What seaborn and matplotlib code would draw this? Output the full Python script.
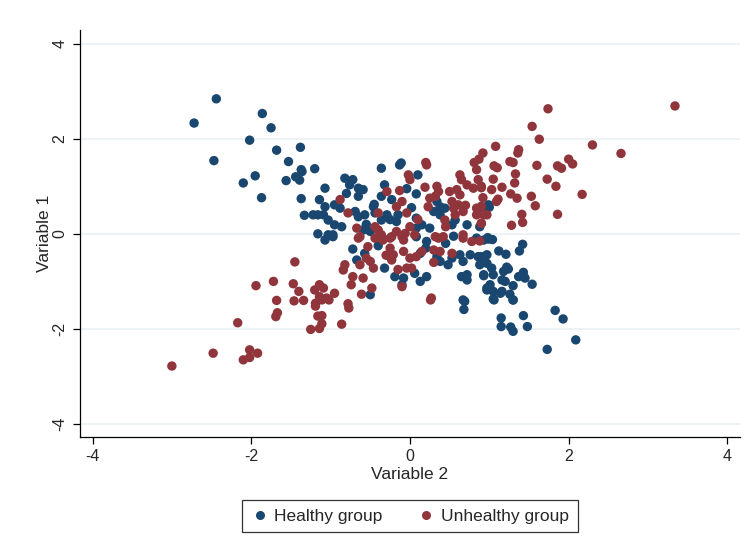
import matplotlib
matplotlib.use("Agg")
import matplotlib.pyplot as plt
import seaborn as sns
import pandas as pd
from matplotlib.lines import Line2D

# Healthy group: (Variable 2, Variable 1) pairs
healthy_x = [-2.44, -2.72, -1.86, -1.75, -2.02, -1.68, -1.38, -2.47, -1.53, -1.37, -1.20,
             -2.10, -1.95, -1.87, -1.56, -1.44, -1.39, -1.36, -1.37, -1.33, -1.22, -1.16, -1.16,
             -0.36, -0.11, -0.13, -0.82, -0.72, -0.76, -1.07, -0.65, -0.59, -0.65, -0.32, -0.04,
             0.08, -0.36, -0.23, 0.10, -1.14, -1.07, -0.95, -0.88, -0.69, -0.65, -0.57, -0.46,
             -0.44, -0.36, -0.29, -1.09, -1.03, -0.95, -0.86, -1.03, -0.97, -0.15, -0.17, 0.08,
             0.15, 0.08, 0.30, 0.38, 0.44, 0.34, 0.38, 0.57, 0.53, 0.93, 0.99, 0.72, 0.88,
             -0.59, -0.50, 1.00, 0.98,
             -0.97, -1.07, -0.72, -0.57, -0.67, -0.32, -0.19, -0.08, -0.10, 0.06, 0.21, 0.13,
             0.13, 0.21, 0.08, 0.34, 0.38, 0.48, 0.53, 0.63, 0.76, 0.86, 0.97, 0.67, 0.93, 0.84,
             0.65, 0.72, 0.72, 0.93, 0.97, 0.67, -0.50,
             0.99, 1.04, 1.42, 1.38, 1.12, 1.21, 0.90, 0.97, 1.03, 0.88, 1.22, 1.24, 1.18, 0.93,
             1.05, 1.43, 1.37, 1.45, 1.54, 1.16, 1.20, 1.30, 1.01, 0.97, 1.05, 1.16, 1.14, 1.26,
             1.30, 1.05,
             0.69, 0.68, 1.06, 1.30, 1.15, 1.15, 1.27, 1.30, 1.43, 1.48, 1.83, 1.93, 2.09, 1.73,
             -0.45, -0.25, 0.02, 0.25, 0.45, -0.80, -0.55, 0.20, 0.55, -0.40]
healthy_y = [2.84, 2.33, 2.53, 2.23, 1.97, 1.76, 1.82, 1.54, 1.52, 1.35, 1.37,
             1.07, 1.22, 0.76, 1.12, 1.20, 1.13, 1.31, 0.74, 0.39, 0.40, 0.40, 0.00,
             1.38, 1.49, 1.45, 1.17, 1.14, 1.03, 0.96, 0.96, 0.93, 0.79, 1.03, 0.95,
             0.84, 0.79, 0.72, 1.24, 0.72, 0.57, 0.61, 0.54, 0.47, 0.36, 0.40, 0.57,
             0.44, 0.29, 0.40, 0.40, 0.29, 0.19, 0.15, -0.02, -0.06, 0.40, 0.26, 0.33,
             0.19, 0.12, 0.47, 0.40, 0.54, 0.68, 0.57, 0.29, 0.19, 0.51, 0.61, 0.19, 0.15,
             0.08, 0.05, 0.56, -0.08,
             -0.02, -0.13, -0.32, -0.41, -0.55, -0.72, -0.90, -0.93, -1.07, -0.83, -0.90, -1.00,
             -0.41, -0.16, -0.06, -0.48, -0.58, -0.65, -0.51, -0.44, -0.44, -0.48, -0.44, -0.58,
             -0.13, -0.09,
             -0.90, -0.97, -0.86, -0.86, -1.14, -1.39, -1.28,
             -0.11, -0.12, -0.22, -0.36, -0.36, -0.43, -0.48, -0.62, -0.72, -0.65, -0.70, -0.74,
             -0.79, -0.88, -0.86, -0.81, -0.90, -0.93, -1.06, -0.97, -1.00, -1.09, -1.07, -1.18,
             -1.21, -1.21, -1.25, -1.27, -1.39, -1.37,
             -1.42, -1.59, -1.39, -1.39, -1.77, -1.95, -1.96, -2.05, -1.72, -1.95, -1.61, -1.79,
             -2.23, -2.43,
             0.62, 0.30, 0.55, 0.12, -0.20, 0.85, 0.20, -0.30, -0.05, -0.25]

# Unhealthy group: (Variable 2, Variable 1) pairs
unhealthy_x = [0.20, 0.81, 0.87, 0.92, 1.74, 3.34, 1.54, 1.63, 1.08, 1.37, 1.36, 2.30, 2.66,
               1.26, 1.30, 1.60, 1.06, 1.10, 1.86, 1.91, 2.00, 2.05,
               1.33, 1.05, 1.32, 0.90, 1.03, 1.16, 1.73, 1.84, 2.17, 0.92, 1.11, 1.09, 1.27,
               1.35, 1.53, 1.58, 0.90, 0.93, 0.97, 1.41, 1.86, 0.90, 1.28, 1.42,
               -1.45, -1.94, -1.72, -1.47, -1.40, -1.20, -1.68, -1.46, -1.34, -1.19,
               -1.67, -1.69, -2.17, -1.19, -1.16, -1.25, -2.48, -3.00, -2.02, -1.92, -2.02, -2.10,
               -0.77, -1.11, -1.11, -1.14, -0.86, -1.02, -1.11, 0.26, 0.88,
               -0.65, -0.44, -0.34, -0.25, -0.08, -0.53, -0.25, -0.21, -0.23, -0.08, 0.00, 0.08,
               0.15, -0.55, -0.50, -0.46, -0.82, -0.84, -0.63, -0.72, -0.59, -0.74, -0.48, -0.61,
               -0.04, 0.02, -0.10, 0.27, 0.30, 0.38, 0.53, 0.36, 0.67, 0.78, -1.14, -1.09, -1.14,
               -0.95, -1.05, -0.78,
               -0.02, 0.00, 0.21, -0.29, -0.13, 0.19, 0.34, 0.36, 0.32, 0.25, 0.23, -0.88, -0.78,
               -0.17, -0.10, -0.40, -0.04, 0.50, 0.59, 0.63, 0.72, 0.80, 0.63, 0.65, 0.84, 0.86,
               0.90, 0.53, 0.55, 0.57, 0.61, 0.67, 0.84, 0.84, 0.44, 0.90, 0.67, -0.67, -0.44,
               -0.40, -0.36, -0.17, -0.06, 0.00, -0.23, -0.10, -0.63, 0.06, 0.32, 0.42,
               0.10, 0.45, -0.30, 0.70, -0.15, 0.30]
unhealthy_y = [1.50, 1.50, 1.57, 1.70, 2.63, 2.69, 2.26, 1.99, 1.84, 1.77, 1.70, 1.87, 1.69,
               1.52, 1.50, 1.44, 1.43, 1.39, 1.43, 1.38, 1.57, 1.47,
               1.26, 1.15, 1.07, 0.97, 0.93, 0.98, 1.15, 1.00, 0.83, 0.76, 0.73, 0.68, 0.84,
               0.75, 0.79, 0.59, 0.58, 0.40, 0.40, 0.41, 0.41, 0.22, 0.18, 0.24,
               -0.59, -1.09, -1.00, -1.05, -1.21, -1.18, -1.40, -1.41, -1.40, -1.46,
               -1.66, -1.74, -1.87, -1.52, -1.73, -2.01, -2.51, -2.78, -2.44, -2.51, -2.60, -2.65,
               -1.56, -1.72, -1.89, -1.99, -1.90, -1.39, -1.39, -1.39, -0.15,
               -0.09, -0.09, -0.13, -0.09, -0.13, -0.27, -0.30, -0.44, -0.55, -0.37, -0.51, -0.48,
               -0.37, -0.51, -0.58, -0.72, -0.65, -0.76, -0.65, -0.90, -0.93, -1.07, -1.14, -1.27,
               -0.72, -0.72, -1.11, -1.35, -0.34, -0.37, -0.41, -0.09, -0.09, -0.16, -1.07, -1.14,
               -1.32, -1.25, -1.35, -1.47,
               1.24, 1.14, 1.45, 0.89, 0.91, 0.98, 1.00, 0.89, 0.79, 0.75, 0.57, 0.72, 0.44,
               0.57, 0.68, 0.44, 0.44, 0.89, 0.93, 0.82, 1.03, 0.96, 1.24, 1.14, 1.35, 1.14,
               1.00, 0.68, 0.54, 0.40, 0.61, 0.47, 0.54, 0.40, 0.29, 0.22, -0.02, 0.12, 0.15,
               0.08, -0.02, 0.05, 0.01, 0.15, -0.06, -0.06, -0.06, -0.02, -0.06, -0.06,
               0.30, 0.15, -0.45, 0.60, -0.75, -0.60]

groups = ["Healthy group", "Unhealthy group"]
colors = ["#1a476f", "#90353b"]
axis_ticks = [-4, -2, 0, 2, 4]

df = pd.concat([
    pd.DataFrame({"Variable 2": healthy_x, "Variable 1": healthy_y, "group": groups[0]}),
    pd.DataFrame({"Variable 2": unhealthy_x, "Variable 1": unhealthy_y, "group": groups[1]}),
], ignore_index=True)

sns.set_style("white")
plt.rcParams["font.family"] = ["Arial", "Liberation Sans", "DejaVu Sans"]

fig = plt.figure(figsize=(7.46, 5.53), dpi=100)
ax = fig.add_axes([0.107, 0.210, 0.885, 0.736])

sns.scatterplot(data=df, x="Variable 2", y="Variable 1", hue="group",
                palette=dict(zip(groups, colors)), s=46, linewidth=0,
                alpha=1, legend=False, ax=ax, zorder=3)

ax.set_xlim(-4.16, 4.16)
ax.set_ylim(-4.27, 4.29)
ax.set_xticks(axis_ticks)
ax.set_yticks(axis_ticks)
ax.set_xticklabels([str(t) for t in axis_ticks], fontsize=11.5)
ax.set_yticklabels([str(t) for t in axis_ticks], fontsize=11.5, rotation=90, va="center")
ax.yaxis.grid(True, color="#e8eff1", linewidth=1.1, zorder=0)
ax.xaxis.grid(False)
ax.set_axisbelow(True)

for side in ["top", "right"]:
    ax.spines[side].set_visible(False)
for side in ["left", "bottom"]:
    ax.spines[side].set_color("black")
    ax.spines[side].set_linewidth(0.9)
ax.tick_params(axis="both", direction="out", length=5, width=0.9, color="black",
               bottom=True, left=True, pad=4)

ax.set_xlabel("Variable 2", fontsize=12.5, labelpad=2)
ax.set_ylabel("Variable 1", fontsize=12.5, labelpad=0)

handles = [Line2D([0], [0], marker="o", linestyle="", markersize=6.5,
                  markerfacecolor=c, markeredgewidth=0) for c in colors]
leg = fig.legend(handles, groups, loc="center", bbox_to_anchor=(410 / 746, 1 - 516 / 553),
                 ncol=2, frameon=True, fancybox=False, fontsize=12.5,
                 handletextpad=0.35, columnspacing=2.0, borderpad=0.5,
                 handlelength=1.0, borderaxespad=0)
leg.get_frame().set_edgecolor("black")
leg.get_frame().set_linewidth(0.9)

fig.savefig("out.png", dpi=100, facecolor="white")
